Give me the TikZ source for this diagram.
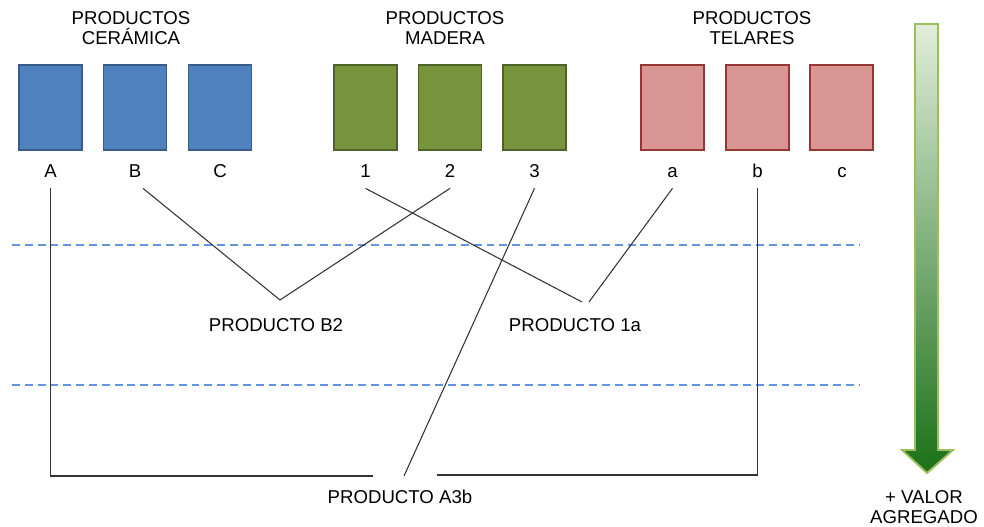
\documentclass[tikz,border=0pt]{standalone}
\usepackage{fontspec}
\setmainfont{Liberation Sans}
\usepackage{xcolor}
\usepackage{tikz}
\definecolor{cerfill}{RGB}{79,129,189}
\definecolor{cerline}{RGB}{56,93,138}
\definecolor{madfill}{RGB}{119,147,60}
\definecolor{madline}{RGB}{79,98,40}
\definecolor{telfill}{RGB}{217,150,148}
\definecolor{telline}{RGB}{149,55,53}
\definecolor{nivelazul}{RGB}{100,150,220}
\definecolor{flechatop}{RGB}{226,238,218}
\definecolor{flechamid}{RGB}{140,180,105}
\definecolor{flechabot}{RGB}{28,112,24}
\definecolor{flechaborde}{RGB}{155,190,95}

\tikzset{
  prodbox/.style={draw, line width=1.1pt, minimum width=1.26cm, minimum height=1.7cm, inner sep=0pt},
  letra/.style={minimum height=0.68cm, text height=0.26cm, text depth=0pt, inner sep=0pt},
  titulo/.style={align=center, font=\fontsize{10.6}{11.4}\selectfont},
  conector/.style={draw=black!80, line width=0.6pt},
  nivel/.style={draw=nivelazul, dash pattern=on 4.5pt off 2.8pt, line width=0.85pt}
}

\begin{document}
\begin{tikzpicture}[x=0.02cm,y=-0.02cm,font=\fontsize{10.6}{12.7}\selectfont]
\useasboundingbox (0,0) rectangle (984,527);

  \node[titulo] (tCer) at (131,28) {PRODUCTOS\\CERÁMICA};
  \node[titulo] (tMad) at (445,28) {PRODUCTOS\\MADERA};
  \node[titulo] (tTel) at (752,28) {PRODUCTOS\\TELARES};

  \node[prodbox, fill=cerfill, draw=cerline] (bA) at (50.5,107.5) {};
  \node[prodbox, fill=cerfill, draw=cerline] (bB) at (135,107.5) {};
  \node[prodbox, fill=cerfill, draw=cerline] (bC) at (220,107.5) {};
  \node[prodbox, fill=madfill, draw=madline] (b1) at (365.5,107.5) {};
  \node[prodbox, fill=madfill, draw=madline] (b2) at (450,107.5) {};
  \node[prodbox, fill=madfill, draw=madline] (b3) at (534.5,107.5) {};
  \node[prodbox, fill=telfill, draw=telline] (ba) at (672.5,107.5) {};
  \node[prodbox, fill=telfill, draw=telline] (bb) at (757.5,107.5) {};
  \node[prodbox, fill=telfill, draw=telline] (bc) at (841.5,107.5) {};

  \node[letra] (lA) at (50.5,171) {A};
  \node[letra] (lB) at (135,171) {B};
  \node[letra] (lC) at (220,171) {C};
  \node[letra] (l1) at (365.5,171) {1};
  \node[letra] (l2) at (450,171) {2};
  \node[letra] (l3) at (534.5,171) {3};
  \node[letra] (la) at (672.5,171) {a};
  \node[letra] (lb) at (757.5,171) {b};
  \node[letra] (lc) at (842,171) {c};

  \draw[nivel] (12,245) -- (860,245);
  \draw[nivel] (12,385) -- (860,385);

  \node (pB2) at (276,325) {PRODUCTO B2};
  \node (p1a) at (575,325) {PRODUCTO 1a};
  \node (pA3b) at (400,497) {PRODUCTO A3b};

  \coordinate (jB2) at (280,300);
  \coordinate (j1aL) at (582,302);
  \coordinate (j1aR) at (589,302);
  \coordinate (jA3bL) at (373,476);
  \coordinate (jA3b) at (404,476);
  \coordinate (jA3bR) at (437,475);

  \draw[conector] ([xshift=0.16cm]lB.south) -- (jB2);
  \draw[conector] (l2.south) -- (jB2);
  \draw[conector] (l1.south) -- (j1aL);
  \draw[conector] (la.south) -- (j1aR);
  \draw[conector] (l3.south) -- (jA3b);
  \draw[conector] (lA.south) |- (jA3bL);
  \draw[conector] (lb.south) |- (jA3bR);

  \shade[top color=flechatop, middle color=flechamid, bottom color=flechabot, draw=flechaborde, line width=1.1pt, line join=miter]
    (915,24) -- (938,24) -- (938,450) -- (953,450) -- (927,473) -- (902,450) -- (915,450) -- cycle;
  \node[titulo] (valor) at (924,507) {+ VALOR\\AGREGADO};
\end{tikzpicture}
\end{document}
